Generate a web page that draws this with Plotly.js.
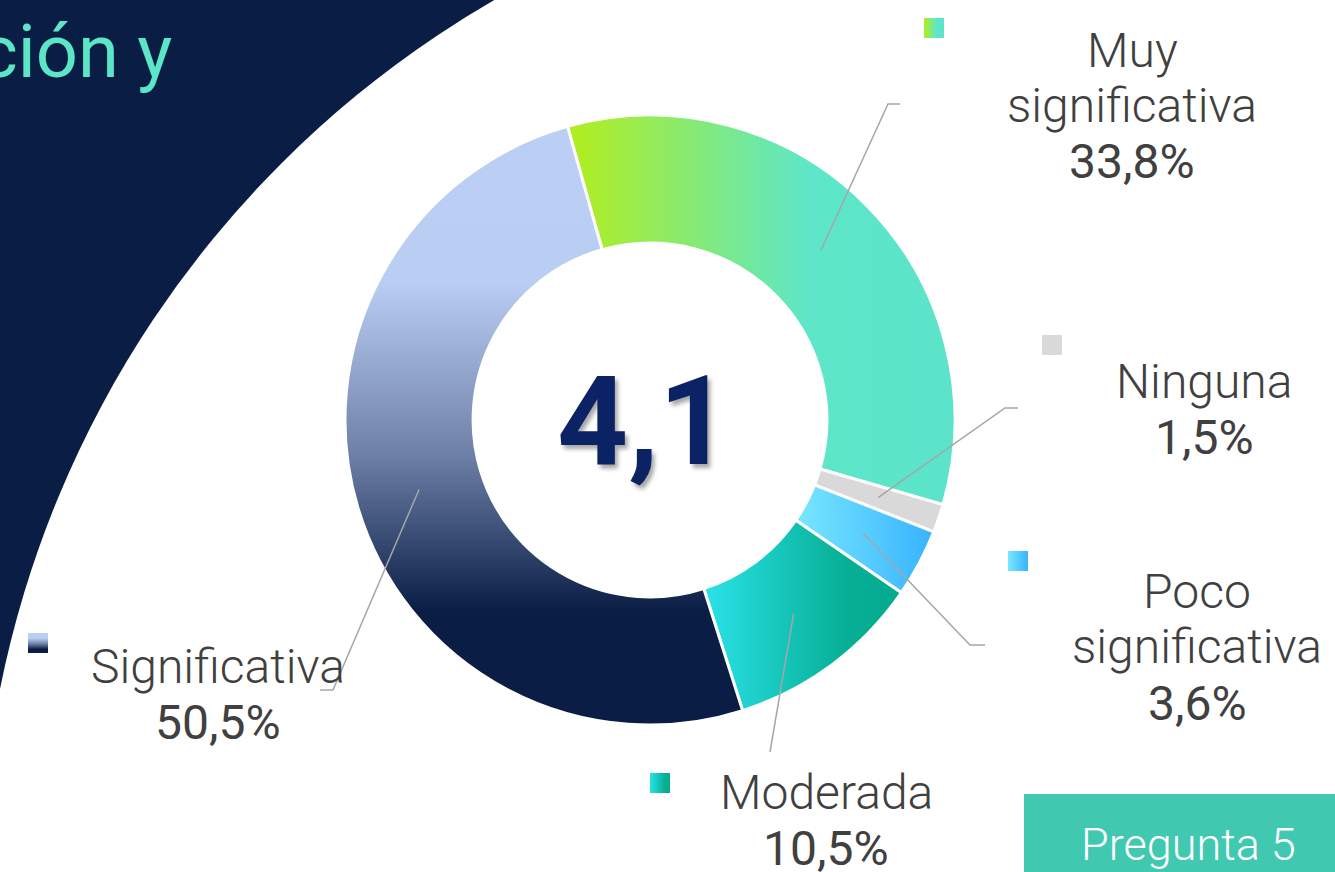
<!DOCTYPE html>
<html>
<head>
<meta charset="utf-8">
<script src="https://cdn.plot.ly/plotly-3.0.1.min.js"></script>
<style>
  html, body { margin: 0; padding: 0; background: #ffffff; }
  #chart { width: 1335px; height: 872px; }
</style>
</head>
<body>
<div id="chart"></div>
<script>
// ---------------- DATA ----------------
const categories = ['Muy significativa', 'Ninguna', 'Poco significativa', 'Moderada', 'Significativa'];
const values = [33.8, 1.5, 3.6, 10.5, 50.5];
const labelLines = [['Muy', 'significativa'], ['Ninguna'], ['Poco', 'significativa'], ['Moderada'], ['Significativa']];
const centerValue = '4,1';
const headingText = 'ción y';
const badgeText = 'Pregunta 5';

// ---------------- STYLE ----------------
const W = 1335, H = 872;
const baseColors = ['#8FE97A', '#D9D9D9', '#57CCFF', '#16C8BC', '#5A6E96'];
const gradients = [
  { dir: 'h', stops: [[0, '#B3EE1C'], [0.62, '#5EE6C8'], [1, '#5CE4CB']] },
  { dir: 'h', stops: [[0, '#D9D9D9'], [1, '#D9D9D9']] },
  { dir: 'h', stops: [[0, '#78E7FF'], [1, '#38B3FF']] },
  { dir: 'h', stops: [[0, '#2AE2E8'], [0.72, '#07AF95'], [1, '#05AA90']] },
  { dir: 'v', stops: [[0, '#BBCFF5'], [0.26, '#BACEF4'], [0.55, '#6D7FA6'], [0.81, '#0A1E45'], [1, '#0A1E45']] }
];
const pieCenter = [650, 420];   // px
const pieRadius = 305;          // px
const holeFrac = 0.58;
const rotationDeg = -15.7;
// label blocks: centre x, centre y of first line (px)
const labelPos = [[1132, 50], [1204, 381], [1197, 591], [826, 792], [218, 666]];
const lineStep = 55.5;
const pctStep = 56.5;
// leader line elbows / ends (px)
const leaderEnds = [
  [[888, 104], [900, 104]],
  [[1005, 408], [1018, 408]],
  [[970, 645], [985, 645]],
  [[770, 752]],
  [[333, 690], [320, 690]]
];
// little legend squares (top-left px)
const squarePos = [[924, 18], [1042, 335], [1008, 551], [650, 773], [28, 633]];
const squareSize = 20;

const px = x => x / W;
const py = y => 1 - y / H;
const fmtPct = v => v.toFixed(1).replace('.', ',') + '%';

// ---------------- TRACE ----------------
const trace = {
  type: 'pie',
  labels: categories,
  values: values,
  sort: false,
  direction: 'clockwise',
  rotation: rotationDeg,
  hole: holeFrac,
  textinfo: 'none',
  hoverinfo: 'label+percent',
  marker: { colors: baseColors, line: { color: '#ffffff', width: 3 } },
  domain: {
    x: [px(pieCenter[0] - pieRadius), px(pieCenter[0] + pieRadius)],
    y: [py(pieCenter[1] + pieRadius), py(pieCenter[1] - pieRadius)]
  },
  showlegend: false
};

// ---------------- SHAPES ----------------
const shapes = [];
shapes.push({ type: 'rect', xref: 'paper', yref: 'paper', x0: 0, x1: 1, y0: 0, y1: 1,
  fillcolor: '#0A1D44', line: { width: 0 }, layer: 'below' });
const bigC = [1009, 891], bigR = 1029;
shapes.push({ type: 'circle', xref: 'paper', yref: 'paper',
  x0: px(bigC[0] - bigR), x1: px(bigC[0] + bigR), y0: py(bigC[1] + bigR), y1: py(bigC[1] - bigR),
  fillcolor: '#ffffff', line: { width: 0 }, layer: 'below' });

const total = values.reduce((a, b) => a + b, 0);
const rMid = pieRadius * (1 + holeFrac) / 2;
let cum = 0;
values.forEach((v, i) => {
  const midDeg = rotationDeg + (cum + v / 2) / total * 360;
  cum += v;
  const a = midDeg * Math.PI / 180;
  const sx = pieCenter[0] + rMid * Math.sin(a);
  const sy = pieCenter[1] - rMid * Math.cos(a);
  let path = 'M ' + px(sx) + ',' + py(sy);
  leaderEnds[i].forEach(p => { path += ' L ' + px(p[0]) + ',' + py(p[1]); });
  shapes.push({ type: 'path', xref: 'paper', yref: 'paper', path: path,
    line: { color: '#A6A6A6', width: 1.5 }, layer: 'above' });
});

const squareIdx = [];
squarePos.forEach((p, i) => {
  squareIdx.push(shapes.length);
  shapes.push({ type: 'rect', xref: 'paper', yref: 'paper',
    x0: px(p[0]), x1: px(p[0] + squareSize), y0: py(p[1] + squareSize), y1: py(p[1]),
    fillcolor: baseColors[i], line: { width: 0 }, layer: 'above' });
});

shapes.push({ type: 'rect', xref: 'paper', yref: 'paper',
  x0: px(1024), x1: px(1340), y0: py(876), y1: py(794),
  fillcolor: '#40C9B0', line: { width: 0 }, layer: 'above' });

// ---------------- ANNOTATIONS ----------------
const annotations = [];
const nameFont = { family: 'Roboto, "Open Sans", sans-serif', size: 48, color: '#404040', weight: 300 };
const pctFont = { family: 'Roboto, "Open Sans", sans-serif', size: 48, color: '#404040', weight: 400 };
categories.forEach((c, i) => {
  const [cx, cy] = labelPos[i];
  labelLines[i].forEach((t, k) => {
    annotations.push({ xref: 'paper', yref: 'paper', x: px(cx), y: py(cy + k * lineStep),
      xanchor: 'center', yanchor: 'middle', showarrow: false, text: t, font: nameFont });
  });
  const yp = cy + (labelLines[i].length - 1) * lineStep + pctStep;
  annotations.push({ xref: 'paper', yref: 'paper', x: px(cx), y: py(yp),
    xanchor: 'center', yanchor: 'middle', showarrow: false, text: fmtPct(values[i]), font: pctFont });
});
annotations.push({ xref: 'paper', yref: 'paper', x: px(643), y: py(421),
  xanchor: 'center', yanchor: 'middle', showarrow: false, text: centerValue,
  font: { family: 'Roboto, "Open Sans", sans-serif', size: 124, color: '#0B2265', weight: 700,
    shadow: '3px 4px 4px rgba(0,0,0,0.35)' } });
annotations.push({ xref: 'paper', yref: 'paper', x: px(174), y: py(52),
  xanchor: 'right', yanchor: 'middle', showarrow: false, text: headingText,
  font: { family: 'Roboto, "Open Sans", sans-serif', size: 74, color: '#5CE6C8', weight: 400 } });
annotations.push({ xref: 'paper', yref: 'paper', x: px(1188), y: py(844),
  xanchor: 'center', yanchor: 'middle', showarrow: false, text: badgeText,
  font: { family: 'Roboto, "Open Sans", sans-serif', size: 45, color: '#ffffff', weight: 300 } });

const layout = {
  width: W, height: H,
  margin: { l: 0, r: 0, t: 0, b: 0 },
  paper_bgcolor: '#ffffff',
  plot_bgcolor: '#ffffff',
  showlegend: false,
  shapes: shapes,
  annotations: annotations
};

// ---------------- GRADIENTS (post-render styling) ----------------
function addGradients(gd) {
  const svg = gd.querySelector('svg.main-svg');
  if (!svg) return;
  const NS = 'http://www.w3.org/2000/svg';
  let defs = svg.querySelector('defs');
  if (!defs) { defs = document.createElementNS(NS, 'defs'); svg.insertBefore(defs, svg.firstChild); }
  gradients.forEach((g, i) => {
    const lg = document.createElementNS(NS, 'linearGradient');
    lg.setAttribute('id', 'sliceGrad' + i);
    lg.setAttribute('x1', '0'); lg.setAttribute('y1', '0');
    lg.setAttribute('x2', g.dir === 'h' ? '1' : '0');
    lg.setAttribute('y2', g.dir === 'h' ? '0' : '1');
    g.stops.forEach(s => {
      const st = document.createElementNS(NS, 'stop');
      st.setAttribute('offset', s[0]);
      st.setAttribute('stop-color', s[1]);
      lg.appendChild(st);
    });
    defs.appendChild(lg);
  });
  const slices = gd.querySelectorAll('.pielayer .slice path.surface');
  slices.forEach((p, i) => { if (gradients[i]) p.style.fill = 'url(#sliceGrad' + i + ')'; });
  const shapePaths = gd.querySelectorAll('.shapelayer path');
  shapePaths.forEach(p => {
    const idx = parseInt(p.getAttribute('data-index'), 10);
    const k = squareIdx.indexOf(idx);
    if (k >= 0) p.style.fill = 'url(#sliceGrad' + k + ')';
  });
}

Plotly.newPlot('chart', [trace], layout, { displayModeBar: false, staticPlot: true })
  .then(addGradients);
</script>
</body>
</html>
